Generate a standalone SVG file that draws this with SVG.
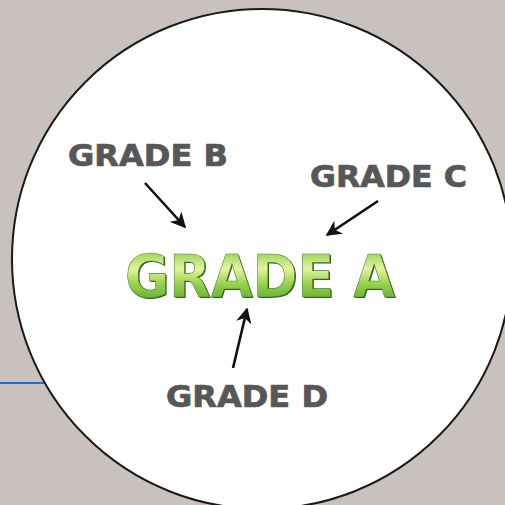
<svg xmlns="http://www.w3.org/2000/svg" width="505" height="505" viewBox="0 0 505 505">
<defs>
<style>
.lbl{font-family:"DejaVu Sans","Open Sans",sans-serif;font-weight:bold;fill:#575757;stroke:#575757;stroke-width:0.7;font-size:29.5px}
.arr{stroke:#111;stroke-width:2.6;fill:none;marker-end:url(#ah)}
</style>
<marker id="ah" viewBox="0 0 10 10" refX="9" refY="5" markerWidth="6" markerHeight="6" orient="auto" markerUnits="strokeWidth">
<path d="M0,0 L10,5 L0,10 L3,5 Z" fill="#111"/>
</marker>
<linearGradient id="g" x1="0" y1="0" x2="0" y2="1">
<stop offset="0" stop-color="#74c236"/>
<stop offset="0.38" stop-color="#e2f49e"/>
<stop offset="0.6" stop-color="#98d24c"/>
<stop offset="1" stop-color="#3c9c1e"/>
</linearGradient>
</defs>
<rect width="505" height="505" fill="#c9c1be"/>
<line x1="0" y1="383" x2="44" y2="383" stroke="#1b72c4" stroke-width="2"/>
<circle cx="262" cy="259" r="250" fill="#fff" stroke="#1a1a1a" stroke-width="2"/>
<g id="gradeA">
<text x="125" y="297" textLength="270" lengthAdjust="spacingAndGlyphs" font-family="DejaVu Sans, Open Sans, sans-serif" font-weight="bold" font-size="58" fill="#2f5a1c" transform="translate(1.2,1.2)">GRADE A</text>
<text x="125" y="297" textLength="270" lengthAdjust="spacingAndGlyphs" font-family="DejaVu Sans, Open Sans, sans-serif" font-weight="bold" font-size="58" fill="url(#g)" stroke="#4e7a30" stroke-width="0.6">GRADE A</text>
</g>
<g id="gradeB"><text class="lbl" x="68" y="166" textLength="160" lengthAdjust="spacingAndGlyphs">GRADE B</text></g>
<g id="gradeC"><text class="lbl" x="310" y="187" textLength="157" lengthAdjust="spacingAndGlyphs">GRADE C</text></g>
<g id="gradeD"><text class="lbl" x="166" y="407" textLength="162" lengthAdjust="spacingAndGlyphs">GRADE D</text></g>
<g id="connectors">
<line class="arr" x1="145" y1="183" x2="185" y2="227"/>
<line class="arr" x1="378" y1="201" x2="327" y2="235"/>
<line class="arr" x1="233" y1="368" x2="247" y2="309"/>
</g>
</svg>
